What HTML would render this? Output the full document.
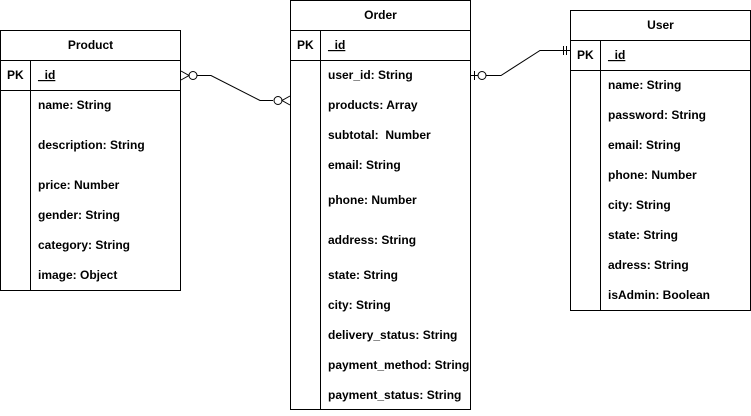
<!DOCTYPE html>
<html><head><style>body{margin:0;background:#fff}svg text{font-family:"Liberation Sans",Arial,sans-serif;font-weight:bold;font-size:12px;fill:#000}</style></head>
<body>
<svg width="751" height="411" viewBox="0 0 751 411" xmlns="http://www.w3.org/2000/svg">
<g fill="none" stroke="#000" stroke-width="1">
<rect x="0.5" y="30.5" width="180" height="260"/>
<line x1="0" y1="60.5" x2="181" y2="60.5"/>
<line x1="0" y1="90.5" x2="181" y2="90.5"/>
<line x1="30.5" y1="60" x2="30.5" y2="290"/>
<rect x="290.5" y="0.5" width="180" height="409"/>
<line x1="290" y1="30.5" x2="471" y2="30.5"/>
<line x1="290" y1="60.5" x2="471" y2="60.5"/>
<line x1="320.5" y1="30" x2="320.5" y2="410"/>
<rect x="570.5" y="10.5" width="180" height="300"/>
<line x1="570" y1="40.5" x2="751" y2="40.5"/>
<line x1="570" y1="70.5" x2="751" y2="70.5"/>
<line x1="600.5" y1="40" x2="600.5" y2="310"/>
<path d="M197 75.5 H211 L260 100.5 H273"/>
<circle cx="193" cy="75.5" r="4" fill="#fff"/>
<circle cx="278" cy="100.5" r="4" fill="#fff"/>
<path d="M181 71 L189 75.5 L181 80"/>
<path d="M290 96 L282 100.5 L290 105"/>
<path d="M470 75.5 H478"/>
<line x1="474.5" y1="71" x2="474.5" y2="80"/>
<circle cx="482" cy="75.5" r="4" fill="#fff"/>
<path d="M486 75.5 H501 L540 50.5 H570"/>
<line x1="563.5" y1="46" x2="563.5" y2="55"/>
<line x1="566.5" y1="46" x2="566.5" y2="55"/>
</g>
<text x="90.5" y="49" text-anchor="middle">Product</text>
<text x="7" y="79">PK</text>
<text x="38" y="79" text-decoration="underline">_id</text>
<text x="38" y="109">name: String</text>
<text x="38" y="149">description: String</text>
<text x="38" y="189">price: Number</text>
<text x="38" y="219">gender: String</text>
<text x="38" y="249">category: String</text>
<text x="38" y="279">image: Object</text>
<text x="380.5" y="19" text-anchor="middle">Order</text>
<text x="297" y="49">PK</text>
<text x="328" y="49" text-decoration="underline">_id</text>
<text x="328" y="79">user_id: String</text>
<text x="328" y="109">products: Array</text>
<text x="328" y="139">subtotal:&#160; Number</text>
<text x="328" y="169">email: String</text>
<text x="328" y="204">phone: Number</text>
<text x="328" y="244">address: String</text>
<text x="328" y="279">state: String</text>
<text x="328" y="309">city: String</text>
<text x="328" y="339">delivery_status: String</text>
<text x="328" y="369">payment_method: String</text>
<text x="328" y="399">payment_status: String</text>
<text x="660.5" y="29" text-anchor="middle">User</text>
<text x="577" y="59">PK</text>
<text x="608" y="59" text-decoration="underline">_id</text>
<text x="608" y="89">name: String</text>
<text x="608" y="119">password: String</text>
<text x="608" y="149">email: String</text>
<text x="608" y="179">phone: Number</text>
<text x="608" y="209">city: String</text>
<text x="608" y="239">state: String</text>
<text x="608" y="269">adress: String</text>
<text x="608" y="299">isAdmin: Boolean</text>
</svg>
</body></html>
